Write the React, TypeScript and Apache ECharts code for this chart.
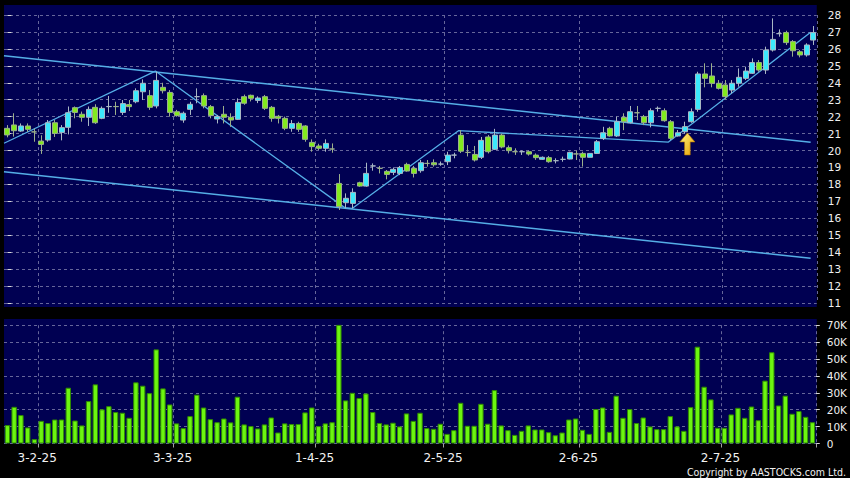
import React, { useEffect, useRef } from "react";
import * as echarts from "echarts";

const dates: string[] = [
  "22-1-25","23-1-25","24-1-25","27-1-25","28-1-25",
  "3-2-25","4-2-25","5-2-25","6-2-25","7-2-25","10-2-25","11-2-25","12-2-25","13-2-25","14-2-25",
  "17-2-25","18-2-25","19-2-25","20-2-25","21-2-25","24-2-25","25-2-25","26-2-25","27-2-25","28-2-25",
  "3-3-25","4-3-25","5-3-25","6-3-25","7-3-25","10-3-25","11-3-25","12-3-25","13-3-25","14-3-25",
  "17-3-25","18-3-25","19-3-25","20-3-25","21-3-25","24-3-25","25-3-25","26-3-25","27-3-25","28-3-25","31-3-25",
  "1-4-25","2-4-25","3-4-25","7-4-25","8-4-25","9-4-25","10-4-25","11-4-25","14-4-25","15-4-25",
  "16-4-25","17-4-25","22-4-25","23-4-25","24-4-25","25-4-25","28-4-25","29-4-25","30-4-25",
  "2-5-25","6-5-25","7-5-25","8-5-25","9-5-25","12-5-25","13-5-25","14-5-25","15-5-25","16-5-25",
  "19-5-25","20-5-25","21-5-25","22-5-25","23-5-25","26-5-25","27-5-25","28-5-25","29-5-25","30-5-25",
  "2-6-25","3-6-25","4-6-25","5-6-25","6-6-25","9-6-25","10-6-25","11-6-25","12-6-25","13-6-25",
  "16-6-25","17-6-25","18-6-25","19-6-25","20-6-25","23-6-25","24-6-25","25-6-25","26-6-25","27-6-25","30-6-25",
  "2-7-25","3-7-25","4-7-25","7-7-25","8-7-25","9-7-25","10-7-25","11-7-25","14-7-25","15-7-25",
  "16-7-25","17-7-25","18-7-25","21-7-25",
];

// [open, close, low, high]
const candles: number[][] = [
  [21.31,20.92,20.78,21.5],[21.51,21.17,20.82,22.2],[21.15,21.45,21.1,21.6],[21.45,21.25,21.1,21.6],[21.1,21.1,20.52,21.3],
  [20.56,20.36,19.8,20.9],[20.62,21.64,20.52,21.8],[21.64,21.01,20.8,21.8],[21.07,21.35,20.6,21.5],[21.37,22.23,20.95,22.6],
  [22.53,22.25,21.9,22.6],[22.14,21.96,21.7,22.3],[21.96,22.43,21.45,22.6],[22.55,21.64,21.57,22.73],[21.9,22.49,21.85,22.6],
  [22.59,22.6,22.23,23.22],[22.6,22.59,22.1,22.88],[22.25,22.77,22.1,22.98],[22.71,22.59,22.33,22.98],[22.88,23.53,22.79,23.67],
  [23.47,23.97,22.98,24.2],[23.24,22.55,22.4,23.57],[22.63,24.14,22.49,24.65],[23.73,23.53,23.37,24.0],[23.43,22.25,22.0,23.57],
  [22.29,22.06,22.0,22.4],[21.8,22.2,21.64,22.3],[22.43,22.73,22.1,22.88],[23.18,23.18,22.79,23.67],[23.24,22.63,22.49,23.37],
  [22.59,22.06,21.9,22.69],[21.86,22.0,21.6,22.1],[22.14,21.96,21.6,22.63],[21.96,21.8,21.4,22.2],[21.84,22.84,21.8,23.08],
  [23.18,22.79,22.7,23.3],[23.26,23.08,22.9,23.3],[22.96,23.1,22.8,23.2],[23.18,22.49,22.39,23.28],[22.55,21.9,21.7,22.63],
  [22.02,21.9,21.6,22.1],[21.9,21.31,21.2,22.0],[21.31,21.59,21.11,21.8],[21.6,21.25,21.1,21.7],[21.45,20.66,20.52,21.5],
  [20.48,20.23,19.93,20.66],[20.27,20.13,20.03,20.4],[20.13,20.42,19.93,20.66],[20.09,20.09,19.87,20.42],[18.06,16.69,16.49,18.61],
  [16.92,17.18,16.59,17.47],[16.88,17.53,16.59,17.77],[18.1,17.9,17.86,18.16],[17.9,18.65,17.86,19.28],[19.09,19.09,18.81,19.24],
  [18.95,18.95,18.65,19.09],[18.77,18.59,18.3,18.85],[18.71,18.89,18.55,19.0],[18.65,19.0,18.55,19.09],[19.18,18.79,18.75,19.28],
  [18.95,18.65,18.41,19.09],[18.81,19.28,18.69,19.44],[19.24,19.24,19.05,19.44],[19.28,19.16,19.05,19.48],[19.2,19.2,19.1,19.35],
  [19.34,19.73,19.14,19.93],[19.73,19.73,19.54,19.87],[20.91,19.96,19.85,21.2],[19.89,19.89,19.65,20.32],[19.77,19.44,19.35,20.27],
  [19.6,20.6,19.5,20.8],[20.8,19.93,19.83,20.92],[20.07,20.91,20.03,21.28],[20.91,20.21,20.13,21.0],[20.17,19.99,19.83,20.3],
  [19.93,19.93,19.74,20.13],[19.93,19.93,19.74,20.0],[19.93,19.79,19.7,20.0],[19.73,19.58,19.45,19.83],[19.48,19.6,19.45,19.65],
  [19.58,19.34,19.28,19.68],[19.4,19.4,19.24,19.54],[19.48,19.48,19.34,19.64],[19.5,19.89,19.48,19.93],[19.8,19.8,19.44,19.99],
  [19.83,19.6,19.05,19.93],[19.6,19.83,19.6,19.83],[19.83,20.52,19.8,20.62],[20.72,21.05,20.62,21.4],[21.31,20.86,20.82,21.4],
  [20.86,21.7,20.8,22.0],[21.96,21.7,21.2,22.2],[21.64,22.29,21.6,22.63],[22.23,22.23,21.8,22.63],[22.0,21.64,21.5,22.1],
  [21.64,22.35,21.37,22.49],[22.49,22.49,22.3,22.6],[22.35,21.76,21.7,22.49],[21.7,20.72,20.62,21.8],[20.86,21.05,20.82,21.21],
  [21.11,21.41,21.0,21.7],[21.7,22.29,21.64,22.49],[22.43,24.52,22.29,24.65],[24.52,24.26,23.73,25.15],[24.4,23.97,23.73,25.15],
  [23.97,23.67,23.6,24.16],[23.87,23.18,23.02,24.16],[23.57,23.97,23.37,24.16],[23.97,24.32,23.77,24.85],[24.26,24.69,24.16,24.95],
  [24.56,25.19,24.52,25.44],[25.19,24.75,24.65,25.34],[24.75,25.93,24.52,26.13],[25.93,26.56,25.84,27.8],[26.9,26.9,26.72,27.15],
  [26.96,26.37,26.23,27.07],[26.43,25.89,25.54,26.52],[25.83,25.64,25.5,25.93],[25.64,26.23,25.54,26.33],[26.52,26.96,26.23,27.35],
];

// volume in thousands
const volumes: number[] = [
  10.9,21.7,16.8,9.5,2.6,13.4,12.1,14.2,14.2,33.0,13.6,10.7,25.1,35.0,20.2,22.1,18.6,18.2,15.2,36.2,
  34.2,29.8,55.7,32.6,23.1,11.9,9.1,16.2,28.9,21.3,14.4,12.6,14.8,12.5,27.7,11.3,10.3,8.9,11.3,15.4,
  6.5,11.9,11.5,11.5,18.4,21.3,10.3,11.9,12.6,70.2,25.5,30.0,26.9,29.6,18.6,12.1,11.3,12.3,10.1,17.8,
  13.4,18.2,9.1,8.7,11.7,5.7,7.9,24.1,10.5,10.5,23.5,11.7,31.6,10.7,7.9,5.1,7.5,10.7,8.3,8.3,
  6.7,4.9,6.5,14.2,14.8,8.1,5.7,20.4,21.3,6.9,28.3,15.2,20.4,12.1,15.4,10.1,8.5,8.5,16.2,10.1,
  7.5,21.5,57.3,33.6,26.1,9.3,9.3,17.2,21.1,15.2,21.9,13.8,37.2,54.0,22.5,28.3,17.6,19.2,15.8,12.6,
];

// trend lines: [bar index, price]
const upperChannel: number[][] = [[-0.5, 25.6], [118.6, 20.49]];
const lowerChannel: number[][] = [[-0.5, 18.75], [118.6, 13.64]];
const zigzag: number[][] = [
  [-0.5, 20.43], [21.85, 24.69], [49.8, 16.63], [50.9, 16.58], [66.6, 21.17], [97.6, 20.5], [118.6, 26.98],
];
const arrowPoint: number[] = [100.4, 20.39];

const priceMin = 11, priceMax = 28, priceStep = 1;
const volMin = 0, volMax = 70, volStep = 10;

const monthOf = (d: string) => d.split("-")[1];
const isMonthStart = (i: number) => i > 0 && monthOf(dates[i]) !== monthOf(dates[i - 1]);

const GRID_LEFT = 4;
const GRID_RIGHT = 33.25;
const PANEL_W = 850 - GRID_LEFT - GRID_RIGHT;
const NAVY = "#000052";
const GRIDLINE = { color: "#66669a", width: 1, type: [3, 3] as any };
const LINE_BLUE = "#55aee6";

export default function App() {
  const ref = useRef<HTMLDivElement>(null);
  useEffect(() => {
    if (!ref.current) return;
    const chart = echarts.init(ref.current, undefined, { renderer: "svg" });
    const splitInterval = (idx: number) => isMonthStart(idx);
    const option: any = {
      animation: false,
      backgroundColor: "#000000",
      graphic: [
        { type: "rect", z: -10, silent: true, shape: { x: GRID_LEFT, y: 5, width: PANEL_W, height: 302 }, style: { fill: NAVY } },
        { type: "rect", z: -10, silent: true, shape: { x: GRID_LEFT, y: 319, width: PANEL_W, height: 124.5 }, style: { fill: NAVY } },
        {
          type: "text", z: 10, silent: true,
          style: {
            text: "Copyright by AASTOCKS.com Ltd.", x: 846, y: 472, textAlign: "right", textVerticalAlign: "middle",
            fill: "#f0f0f0", fontSize: 10.5, fontFamily: "'DejaVu Sans Condensed', 'DejaVu Sans', sans-serif",
          },
        },
      ],
      grid: [
        { left: GRID_LEFT, right: GRID_RIGHT, top: 15, height: 288 },
        { left: GRID_LEFT, right: GRID_RIGHT, top: 325.2, height: 118.3 },
      ],
      xAxis: [
        {
          type: "category", gridIndex: 0, data: dates, boundaryGap: true,
          axisLine: { show: false }, axisTick: { show: false }, axisLabel: { show: false },
          splitLine: { show: true, interval: splitInterval, lineStyle: GRIDLINE },
        },
        {
          type: "category", gridIndex: 1, data: dates, boundaryGap: true,
          axisLine: { show: false },
          axisTick: { show: true, interval: splitInterval, length: 4, lineStyle: { color: "#a0a0a0" } },
          axisLabel: {
            show: true, interval: splitInterval, color: "#f2f2f2", fontSize: 12,
            fontFamily: "'DejaVu Sans', sans-serif", margin: 8, padding: [0, 8, 0, 0],
          },
          splitLine: { show: true, interval: splitInterval, lineStyle: GRIDLINE },
        },
        { type: "value", gridIndex: 0, min: -0.5, max: dates.length - 0.5, show: false },
      ],
      yAxis: [
        {
          type: "value", gridIndex: 0, position: "right", min: priceMin, max: priceMax, interval: priceStep,
          axisLine: { show: false },
          axisTick: { show: true, length: 4, lineStyle: { color: "#d8d8d8" } },
          axisLabel: { color: "#f0f0f0", fontSize: 10.5, fontFamily: "'DejaVu Sans', sans-serif", margin: 11 },
          splitLine: { show: true, lineStyle: GRIDLINE },
        },
        {
          type: "value", gridIndex: 1, position: "right", min: volMin, max: volMax, interval: volStep,
          axisLine: { show: false },
          axisTick: { show: true, length: 4, lineStyle: { color: "#d8d8d8" } },
          axisLabel: {
            color: "#f0f0f0", fontSize: 10.5, fontFamily: "'DejaVu Sans', sans-serif", margin: 11,
            formatter: (v: number) => (v === 0 ? "0" : v + "K"),
          },
          splitLine: { show: true, lineStyle: GRIDLINE },
        },
      ],
      series: [
        {
          type: "line", xAxisIndex: 2, yAxisIndex: 0, data: upperChannel, symbol: "none", silent: true,
          lineStyle: { color: LINE_BLUE, width: 1.5 }, z: 3,
        },
        {
          type: "line", xAxisIndex: 2, yAxisIndex: 0, data: lowerChannel, symbol: "none", silent: true,
          lineStyle: { color: LINE_BLUE, width: 1.5 }, z: 3,
        },
        {
          type: "line", xAxisIndex: 2, yAxisIndex: 0, data: zigzag, symbol: "none", silent: true,
          lineStyle: { color: LINE_BLUE, width: 1.3 }, z: 3,
          markPoint: {
            silent: true,
            symbol: "path://M8 0 L16 9 L11 9 L11 22 L5 22 L5 9 L0 9 Z",
            symbolSize: [15, 22],
            label: { show: false },
            itemStyle: {
              color: new echarts.graphic.LinearGradient(0, 0, 1, 1, [
                { offset: 0, color: "#fff680" },
                { offset: 1, color: "#e8a000" },
              ]),
              borderColor: "#b87800", borderWidth: 0.6,
            },
            data: [{ coord: arrowPoint }],
          },
        },
        {
          type: "candlestick", xAxisIndex: 0, yAxisIndex: 0, data: candles, barWidth: 5.5, z: 4,
          itemStyle: {
            color: "#3ce8fc", color0: "#82ea1e",
            borderColor: "#a9b8c4", borderColor0: "#9cb08c", borderWidth: 1,
          },
        },
        {
          type: "bar", xAxisIndex: 1, yAxisIndex: 1, data: volumes, barWidth: "80%",
          itemStyle: { color: "#6cf510", borderColor: "#2f8a00", borderWidth: 1 },
        },
      ],
    };
    chart.setOption(option);
    return () => chart.dispose();
  }, []);
  return (
    <div
      ref={ref}
      style={{ position: "fixed", left: 0, top: 0, width: 850, height: 478, background: "#000" }}
    />
  );
}
